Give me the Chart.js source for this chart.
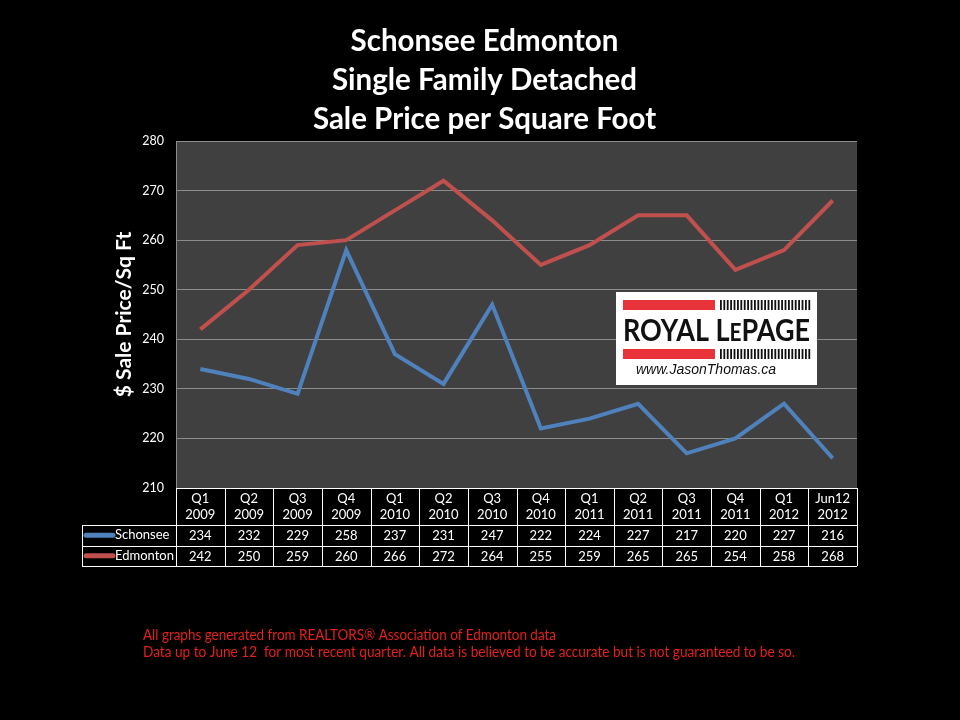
<!DOCTYPE html>
<html>
<head>
<meta charset="utf-8">
<script src="https://cdn.jsdelivr.net/npm/chart.js@4.4.1/dist/chart.umd.min.js"></script>
<style>
  html, body { margin: 0; padding: 0; background: #000; }
  #priceChart { display: block; }
</style>
</head>
<body>
<canvas id="priceChart" width="960" height="720"></canvas>
<script>
const quarters = ['Q1', 'Q2', 'Q3', 'Q4', 'Q1', 'Q2', 'Q3', 'Q4', 'Q1', 'Q2', 'Q3', 'Q4', 'Q1', 'Jun12'];
const years = ['2009', '2009', '2009', '2009', '2010', '2010', '2010', '2010', '2011', '2011', '2011', '2011', '2012', '2012'];
const schonsee = [234, 232, 229, 258, 237, 231, 247, 222, 224, 227, 217, 220, 227, 216];
const edmonton = [242, 250, 259, 260, 266, 272, 264, 255, 259, 265, 265, 254, 258, 268];
const yMin = 210, yMax = 280, yStep = 10;

const BLUE = '#4f81bd';
const RED = '#c0504d';
const FONT = 'Lato, "Open Sans", sans-serif';

// grey plot background
const plotBg = {
  id: 'plotBg',
  beforeDraw(chart) {
    const { ctx, chartArea: a } = chart;
    ctx.save();
    ctx.fillStyle = '#404040';
    ctx.fillRect(a.left, a.top, a.right - a.left, a.bottom - a.top);
    ctx.restore();
  }
};

// data table under the plot, columns follow the x scale
const dataTable = {
  id: 'dataTable',
  afterDraw(chart) {
    const { ctx, chartArea: a } = chart;
    const x = chart.scales.x;
    const colW = (a.right - a.left) / quarters.length;
    const top = a.bottom;
    const headH = 37, rowH = 20.5;
    const labelLeft = 82;
    const rows = [
      { name: 'Schonsee', color: BLUE, data: schonsee },
      { name: 'Edmonton', color: RED, data: edmonton }
    ];
    ctx.save();
    ctx.fillStyle = '#fff';
    ctx.textAlign = 'center';
    ctx.textBaseline = 'middle';
    ctx.font = '13px ' + FONT;
    quarters.forEach((q, i) => {
      const cx = x.getPixelForValue(i);
      ctx.fillText(q, cx, top + 11);
      ctx.fillText(years[i], cx, top + 27);
    });
    rows.forEach((r, j) => {
      const cy = top + headH + rowH * j + rowH / 2;
      r.data.forEach((v, i) => {
        ctx.fillText(String(v), x.getPixelForValue(i), cy + 1);
      });
      // legend key
      ctx.strokeStyle = r.color;
      ctx.lineWidth = 5;
      ctx.lineCap = 'round';
      ctx.beginPath();
      ctx.moveTo(86, cy);
      ctx.lineTo(113, cy);
      ctx.stroke();
      ctx.textAlign = 'left';
      ctx.font = '13px ' + FONT;
      ctx.fillText(r.name, 115, cy, 59);
      ctx.textAlign = 'center';
    });
    // borders
    ctx.strokeStyle = '#fff';
    ctx.lineWidth = 1;
    ctx.lineCap = 'butt';
    const bottom = top + headH + rowH * rows.length;
    ctx.beginPath();
    ctx.moveTo(a.left, top + 0.5); ctx.lineTo(a.right, top + 0.5);
    for (let j = 0; j <= rows.length; j++) {
      const y = Math.round(top + headH + rowH * j) + 0.5;
      ctx.moveTo(labelLeft, y); ctx.lineTo(a.right, y);
    }
    for (let i = 0; i <= quarters.length; i++) {
      const vx = Math.round(a.left + colW * i) + 0.5;
      ctx.moveTo(vx, top); ctx.lineTo(vx, bottom);
    }
    ctx.moveTo(labelLeft + 0.5, top + headH); ctx.lineTo(labelLeft + 0.5, bottom);
    ctx.stroke();
    ctx.restore();
  }
};

// logo box and footer notes
const extras = {
  id: 'extras',
  afterDraw(chart) {
    const { ctx } = chart;
    ctx.save();
    // logo
    const lx = 616, ly = 292, lw = 201, lh = 93;
    ctx.fillStyle = '#fff';
    ctx.fillRect(lx, ly, lw, lh);
    ctx.fillStyle = '#e8333b';
    ctx.fillRect(623, 300, 92, 10);
    ctx.fillRect(623, 349, 92, 10);
    ctx.fillStyle = '#111';
    for (let sx = 720; sx < 810; sx += 3.4) {
      ctx.fillRect(sx, 300, 1.8, 10);
      ctx.fillRect(sx, 349, 1.8, 10);
    }
    const big = 'bold 31px ' + FONT, small = 'bold 24px ' + FONT;
    ctx.textBaseline = 'alphabetic';
    ctx.textAlign = 'left';
    ctx.font = big; const w1 = ctx.measureText('ROYAL L').width, w3 = ctx.measureText('PAGE').width;
    ctx.font = small; const w2 = ctx.measureText('E').width;
    const total = w1 + w2 + w3;
    const sc = 187 / total;
    ctx.save();
    ctx.translate(623, 341);
    ctx.scale(sc, 1);
    ctx.font = big; ctx.fillText('ROYAL L', 0, 0);
    ctx.font = small; ctx.fillText('E', w1, 0);
    ctx.font = big; ctx.fillText('PAGE', w1 + w2, 0);
    ctx.restore();
    ctx.font = 'italic 14px "Liberation Sans", Arial, sans-serif';
    ctx.textBaseline = 'middle';
    ctx.fillText('www.JasonThomas.ca', 636, 370, 148);
    // footer
    ctx.fillStyle = '#e3201b';
    ctx.font = '14.5px ' + FONT;
    ctx.fillText('All graphs generated from REALTORS® Association of Edmonton data', 143, 635, 413);
    ctx.fillText('Data up to June 12  for most recent quarter. All data is believed to be accurate but is not guaranteed to be so.', 143, 652, 652);
    ctx.restore();
  }
};

new Chart(document.getElementById('priceChart'), {
  type: 'line',
  data: {
    labels: quarters.map((q, i) => q + ' ' + years[i]),
    datasets: [
      { label: 'Schonsee', data: schonsee, borderColor: BLUE, backgroundColor: BLUE, borderWidth: 4, pointRadius: 0, tension: 0 },
      { label: 'Edmonton', data: edmonton, borderColor: RED, backgroundColor: RED, borderWidth: 4, pointRadius: 0, tension: 0 }
    ]
  },
  options: {
    responsive: false,
    animation: false,
    devicePixelRatio: 1,
    layout: { padding: { left: 112, right: 103, top: 0, bottom: 232 } },
    plugins: {
      legend: { display: false },
      tooltip: { enabled: false },
      title: {
        display: true,
        text: ['Schonsee Edmonton', 'Single Family Detached', 'Sale Price per Square Foot'],
        color: '#fff',
        font: { family: FONT, size: 29.5, weight: 'bold', lineHeight: 1.32 },
        padding: { top: 22.5, bottom: 1.7 }
      }
    },
    scales: {
      x: {
        type: 'category',
        offset: true,
        display: false
      },
      y: {
        min: yMin,
        max: yMax,
        ticks: { stepSize: yStep, color: '#fff', padding: 12, font: { family: FONT, size: 12.5 } },
        grid: { color: '#8c8c8c', lineWidth: 1, drawTicks: false },
        border: { color: '#8c8c8c' },
        title: {
          display: true,
          text: '$ Sale Price/Sq Ft',
          color: '#fff',
          padding: 0,
          font: { family: FONT, size: 21, weight: 'bold', lineHeight: 1.2 }
        },
        afterFit(scale) { scale.width = 64; }
      }
    }
  },
  plugins: [plotBg, dataTable, extras]
});
</script>
</body>
</html>
